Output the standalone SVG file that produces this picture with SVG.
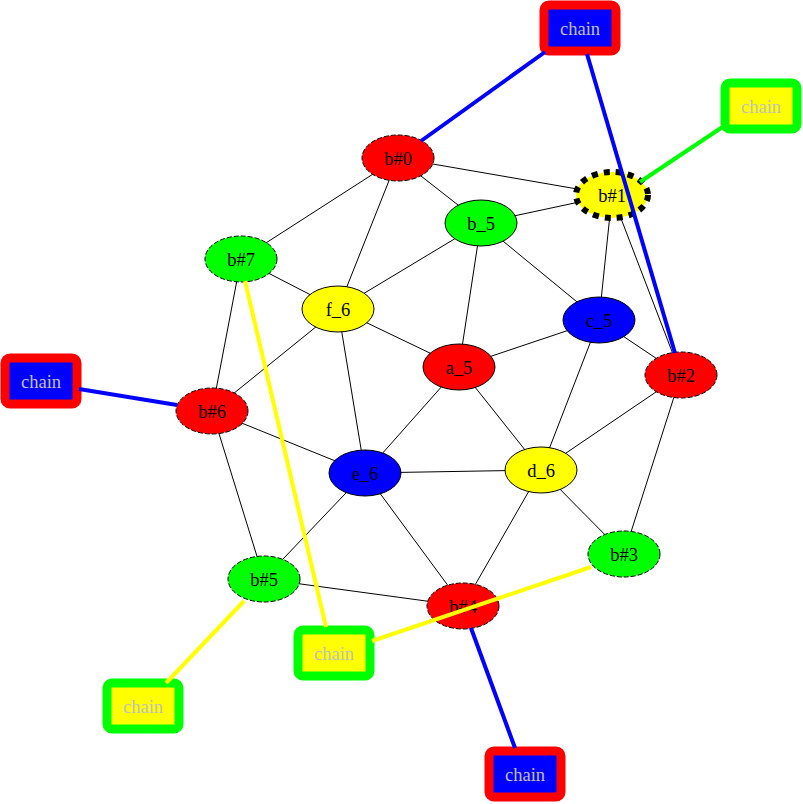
<svg xmlns="http://www.w3.org/2000/svg" width="803" height="804" viewBox="0 0 803 804">
<style>
.e{stroke:#000;stroke-width:1;fill:none}
.c{fill:none;stroke-width:4}
.n{stroke:#000;stroke-width:1}
.d{stroke-dasharray:5,2}
.t{font-family:"Liberation Serif",serif;font-size:18.5px;text-anchor:middle;fill:#000}
.ch{font-family:"Liberation Serif",serif;font-size:18.5px;text-anchor:middle;fill:#c0c0c0}
.bx{stroke-width:9}
</style>
<rect width="803" height="804" fill="#fff"/>
<g id="edges">
<line class="e" x1="398" y1="158" x2="612" y2="195"/>
<line class="e" x1="398" y1="158" x2="481" y2="223"/>
<line class="e" x1="398" y1="158" x2="241" y2="259"/>
<line class="e" x1="398" y1="158" x2="338" y2="309"/>
<line class="e" x1="481" y1="223" x2="612" y2="195"/>
<line class="e" x1="481" y1="223" x2="338" y2="309"/>
<line class="e" x1="481" y1="223" x2="459" y2="367"/>
<line class="e" x1="481" y1="223" x2="599" y2="320"/>
<line class="e" x1="612" y1="195" x2="599" y2="320"/>
<line class="e" x1="612" y1="195" x2="681" y2="375"/>
<line class="e" x1="241" y1="259" x2="338" y2="309"/>
<line class="e" x1="241" y1="259" x2="212" y2="411"/>
<line class="e" x1="338" y1="309" x2="459" y2="367"/>
<line class="e" x1="338" y1="309" x2="212" y2="411"/>
<line class="e" x1="338" y1="309" x2="365" y2="473"/>
<line class="e" x1="599" y1="320" x2="459" y2="367"/>
<line class="e" x1="599" y1="320" x2="681" y2="375"/>
<line class="e" x1="599" y1="320" x2="541" y2="470"/>
<line class="e" x1="459" y1="367" x2="365" y2="473"/>
<line class="e" x1="459" y1="367" x2="541" y2="470"/>
<line class="e" x1="681" y1="375" x2="541" y2="470"/>
<line class="e" x1="681" y1="375" x2="624" y2="554"/>
<line class="e" x1="212" y1="411" x2="365" y2="473"/>
<line class="e" x1="212" y1="411" x2="264" y2="579"/>
<line class="e" x1="365" y1="473" x2="541" y2="470"/>
<line class="e" x1="365" y1="473" x2="264" y2="579"/>
<line class="e" x1="365" y1="473" x2="463" y2="606"/>
<line class="e" x1="541" y1="470" x2="463" y2="606"/>
<line class="e" x1="541" y1="470" x2="624" y2="554"/>
<line class="e" x1="264" y1="579" x2="463" y2="606"/>
</g>
<g id="b0"><ellipse class="n d" cx="398" cy="158" rx="36" ry="23" fill="#f00"/><text class="t" x="398" y="164.5">b#0</text></g>
<g id="b1"><ellipse cx="612" cy="195" rx="36" ry="23" fill="#ff0" stroke="#000" stroke-width="6" stroke-dasharray="6,6"/><text class="t" x="612" y="201.5">b#1</text></g>
<g id="b_5"><ellipse class="n" cx="481" cy="223" rx="36" ry="23" fill="#0f0"/><text class="t" x="481" y="229.5">b_5</text></g>
<g id="b7"><ellipse class="n d" cx="241" cy="259" rx="36" ry="23" fill="#0f0"/><text class="t" x="241" y="265.5">b#7</text></g>
<g id="f_6"><ellipse class="n" cx="338" cy="309" rx="36" ry="23" fill="#ff0"/><text class="t" x="338" y="315.5">f_6</text></g>
<g id="c_5"><ellipse class="n" cx="599" cy="320" rx="36" ry="23" fill="#00f"/><text class="t" x="599" y="326.5">c_5</text></g>
<g id="a_5"><ellipse class="n" cx="459" cy="367" rx="36" ry="23" fill="#f00"/><text class="t" x="459" y="373.5">a_5</text></g>
<g id="b2"><ellipse class="n d" cx="681" cy="375" rx="36" ry="23" fill="#f00"/><text class="t" x="681" y="381.5">b#2</text></g>
<g id="b6"><ellipse class="n d" cx="212" cy="411" rx="36" ry="23" fill="#f00"/><text class="t" x="212" y="417.5">b#6</text></g>
<g id="e_6"><ellipse class="n" cx="365" cy="473" rx="36" ry="23" fill="#00f"/><text class="t" x="365" y="479.5">e_6</text></g>
<g id="d_6"><ellipse class="n" cx="541" cy="470" rx="36" ry="23" fill="#ff0"/><text class="t" x="541" y="476.5">d_6</text></g>
<g id="b3"><ellipse class="n d" cx="624" cy="554" rx="36" ry="23" fill="#0f0"/><text class="t" x="624" y="560.5">b#3</text></g>
<g id="b5"><ellipse class="n d" cx="264" cy="579" rx="36" ry="23" fill="#0f0"/><text class="t" x="264" y="585.5">b#5</text></g>
<g id="b4"><ellipse class="n d" cx="463" cy="606" rx="36" ry="23" fill="#f00"/><text class="t" x="463" y="612.5">b#4</text></g>
<g id="chain1"><rect class="bx" x="544" y="5" width="72" height="46" rx="5" fill="#00f" stroke="#f00"/><text class="ch" x="580" y="34.5">chain</text></g>
<g id="chain2"><rect class="bx" x="725" y="83" width="72" height="46" rx="5" fill="#ff0" stroke="#0f0"/><text class="ch" x="761" y="112.5">chain</text></g>
<g id="chain3"><rect class="bx" x="5" y="358" width="72" height="46" rx="5" fill="#00f" stroke="#f00"/><text class="ch" x="41" y="387.5">chain</text></g>
<g id="chain4"><rect class="bx" x="107" y="683" width="72" height="46" rx="5" fill="#ff0" stroke="#0f0"/><text class="ch" x="143" y="712.5">chain</text></g>
<g id="chain5"><rect class="bx" x="298" y="630" width="72" height="46" rx="5" fill="#ff0" stroke="#0f0"/><text class="ch" x="334" y="659.5">chain</text></g>
<g id="chain6"><rect class="bx" x="489" y="751" width="72" height="46" rx="5" fill="#00f" stroke="#f00"/><text class="ch" x="525" y="780.5">chain</text></g>
<g id="chain-edges">
<line class="c" stroke="#00f" x1="545" y1="52" x2="421" y2="141"/>
<line class="c" stroke="#00f" x1="587" y1="54" x2="675" y2="353"/>
<line class="c" stroke="#0f0" x1="724" y1="126" x2="640" y2="182"/>
<line class="c" stroke="#00f" x1="79" y1="389" x2="177" y2="405"/>
<line class="c" stroke="#ff0" x1="245" y1="281" x2="326" y2="627"/>
<line class="c" stroke="#ff0" x1="591" y1="567" x2="372" y2="641"/>
<line class="c" stroke="#ff0" x1="244" y1="601" x2="166" y2="683"/>
<line class="c" stroke="#00f" x1="471" y1="628" x2="515" y2="748"/>
</g>
</svg>
